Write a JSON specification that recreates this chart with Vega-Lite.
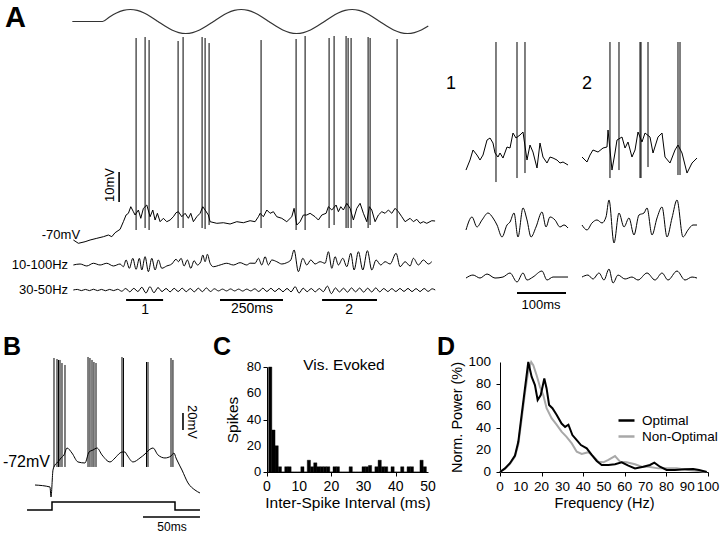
{
"$schema": "https://vega.github.io/schema/vega-lite/v6.json",
"padding": 0,
"background": "white",
"spacing": 0,
"config": {
 "font": "Liberation Sans",
 "view": {"stroke": null},
 "axis": {"grid": false, "domainColor": "black", "tickColor": "black", "labelColor": "black", "titleColor": "black", "titleFontWeight": "normal", "labelOverlap": false, "labelFlush": false},
 "text": {"color": "black"}
},
"datasets": {
 "stimA": [{"t":-130,"v":0},{"t":-10,"v":0},{"t":17.5,"v":0.383},{"t":45,"v":0.707},{"t":72.5,"v":0.924},{"t":100,"v":1},{"t":127.5,"v":0.924},{"t":155,"v":0.707},{"t":182.5,"v":0.383},{"t":210,"v":0},{"t":237.5,"v":-0.383},{"t":265,"v":-0.707},{"t":292.5,"v":-0.924},{"t":320,"v":-1},{"t":347.5,"v":-0.924},{"t":375,"v":-0.707},{"t":402.5,"v":-0.383},{"t":430,"v":0},{"t":457.5,"v":0.383},{"t":485,"v":0.707},{"t":512.5,"v":0.924},{"t":540,"v":1},{"t":567.5,"v":0.924},{"t":595,"v":0.707},{"t":622.5,"v":0.383},{"t":650,"v":0},{"t":677.5,"v":-0.383},{"t":705,"v":-0.707},{"t":732.5,"v":-0.924},{"t":760,"v":-1},{"t":787.5,"v":-0.924},{"t":815,"v":-0.707},{"t":842.5,"v":-0.383},{"t":870,"v":0},{"t":897.5,"v":0.383},{"t":925,"v":0.707},{"t":952.5,"v":0.924},{"t":980,"v":1},{"t":1007.5,"v":0.924},{"t":1035,"v":0.707},{"t":1062.5,"v":0.383},{"t":1090,"v":0},{"t":1117.5,"v":-0.383},{"t":1145,"v":-0.707},{"t":1172.5,"v":-0.924},{"t":1200,"v":-1},{"t":1227.5,"v":-0.924},{"t":1255,"v":-0.707},{"t":1282.5,"v":-0.383}],
 "rawA": [{"t":-125.8,"mV":-69.33},{"t":-106,"mV":-70.43},{"t":-79.4,"mV":-69.9},{"t":-59.5,"mV":-69.33},{"t":-32.9,"mV":-68.77},{"t":-6.7,"mV":-68.23},{"t":13.1,"mV":-67.67},{"t":26.6,"mV":-68.23},{"t":39.7,"mV":-66.9},{"t":59.5,"mV":-65.77},{"t":72.6,"mV":-63.23},{"t":83.3,"mV":-61},{"t":92.5,"mV":-60.43},{"t":102,"mV":-58.23},{"t":112.3,"mV":-59.9},{"t":119,"mV":-61},{"t":132.1,"mV":-59.33},{"t":141.7,"mV":-62.1},{"t":152,"mV":-58.77},{"t":165.5,"mV":-57.67},{"t":178.6,"mV":-61.57},{"t":189.3,"mV":-59.33},{"t":198.4,"mV":-62.67},{"t":207.5,"mV":-60.43},{"t":218.3,"mV":-63.23},{"t":231.3,"mV":-62.1},{"t":244.8,"mV":-63.23},{"t":257.9,"mV":-62.67},{"t":271,"mV":-61.57},{"t":281.7,"mV":-60.23},{"t":290.9,"mV":-59.9},{"t":304.4,"mV":-61.57},{"t":317.5,"mV":-60.43},{"t":330.6,"mV":-62.1},{"t":340.1,"mV":-60.43},{"t":350.4,"mV":-63.23},{"t":363.9,"mV":-61.57},{"t":377,"mV":-60.43},{"t":387.7,"mV":-58.23},{"t":396.8,"mV":-59.33},{"t":409.9,"mV":-61},{"t":416.7,"mV":-63.23},{"t":443.3,"mV":-63.77},{"t":469.4,"mV":-63.57},{"t":496,"mV":-64},{"t":522.6,"mV":-63.23},{"t":548.8,"mV":-63.57},{"t":575.4,"mV":-62.9},{"t":595.2,"mV":-63.23},{"t":608.3,"mV":-61.57},{"t":615.1,"mV":-60.43},{"t":628.2,"mV":-61.57},{"t":641.7,"mV":-59.33},{"t":654.8,"mV":-60.43},{"t":667.9,"mV":-59.9},{"t":681.3,"mV":-61.57},{"t":701.2,"mV":-62.1},{"t":721,"mV":-63.23},{"t":740.9,"mV":-61.57},{"t":750,"mV":-58.77},{"t":760.7,"mV":-64.33},{"t":773.8,"mV":-63.23},{"t":786.9,"mV":-61},{"t":800.4,"mV":-61},{"t":813.5,"mV":-60.43},{"t":833.3,"mV":-61.57},{"t":846.4,"mV":-62.67},{"t":859.9,"mV":-61},{"t":877,"mV":-60.43},{"t":886.1,"mV":-58.23},{"t":899.6,"mV":-59.33},{"t":916.7,"mV":-57.67},{"t":925.8,"mV":-59.9},{"t":935.3,"mV":-58.23},{"t":945.6,"mV":-59.33},{"t":959.1,"mV":-57.1},{"t":972.2,"mV":-58.77},{"t":985.3,"mV":-62.67},{"t":998.8,"mV":-58.77},{"t":1011.9,"mV":-57.1},{"t":1025,"mV":-60.43},{"t":1038.5,"mV":-63.23},{"t":1048.8,"mV":-58.23},{"t":1058.3,"mV":-59.33},{"t":1071.4,"mV":-63.23},{"t":1084.5,"mV":-61},{"t":1098,"mV":-59.9},{"t":1111.1,"mV":-60.43},{"t":1124.2,"mV":-59.33},{"t":1137.7,"mV":-60.43},{"t":1150.8,"mV":-58.77},{"t":1163.9,"mV":-59.9},{"t":1177.4,"mV":-61.57},{"t":1190.5,"mV":-63.23},{"t":1210.3,"mV":-62.1},{"t":1223.4,"mV":-63.23},{"t":1236.9,"mV":-62.43},{"t":1250,"mV":-63.77},{"t":1263.1,"mV":-63.23},{"t":1276.6,"mV":-63.77},{"t":1296.4,"mV":-62.9},{"t":1309.5,"mV":-63}],
 "spikesA": [{"t":123,"top":-2,"bot":-66},{"t":158.7,"top":-1.67,"bot":-65.33},{"t":174.6,"top":-2.67,"bot":-66},{"t":289.7,"top":-3,"bot":-65.33},{"t":309.5,"top":-1.67,"bot":-65.33},{"t":384.9,"top":-1.67,"bot":-65.33},{"t":396.8,"top":-2,"bot":-65.67},{"t":412.7,"top":-3.67,"bot":-64.33},{"t":619,"top":-2.67,"bot":-65.33},{"t":757.9,"top":-2.33,"bot":-66},{"t":793.7,"top":-1.33,"bot":-66},{"t":888.9,"top":-2,"bot":-65.33},{"t":908.7,"top":-1.33,"bot":-64.33},{"t":956.3,"top":-1.33,"bot":-65.33},{"t":964.3,"top":-2,"bot":-65.33},{"t":976.2,"top":-2,"bot":-65.33},{"t":1043.7,"top":-1.67,"bot":-65.33},{"t":1051.6,"top":-2,"bot":-64.33},{"t":1158.7,"top":-2.33,"bot":-65.33}],
 "f1A": [{"t":-125.8,"v":0},{"t":-99.2,"v":0.33},{"t":-72.6,"v":-0.33},{"t":-46.4,"v":0.57},{"t":-19.8,"v":0},{"t":6.7,"v":0.57},{"t":32.9,"v":-0.33},{"t":59.5,"v":0.33},{"t":72.6,"v":-0.57},{"t":83.3,"v":1.67},{"t":96.4,"v":-1.1},{"t":109.9,"v":2.23},{"t":123,"v":-1.43},{"t":136.1,"v":2.23},{"t":145.6,"v":-1.67},{"t":158.7,"v":2.77},{"t":171.8,"v":-2.23},{"t":185.3,"v":2.23},{"t":198.4,"v":-1.67},{"t":211.5,"v":1.67},{"t":225,"v":-1.1},{"t":244.8,"v":-0.33},{"t":264.7,"v":0.33},{"t":281.7,"v":1.9},{"t":290.9,"v":1.1},{"t":301.6,"v":2.23},{"t":313.5,"v":-0.33},{"t":326.6,"v":1.67},{"t":340.1,"v":-1.1},{"t":353.2,"v":1.43},{"t":366.3,"v":0},{"t":379.8,"v":1.1},{"t":387.7,"v":3.33},{"t":396.8,"v":1.1},{"t":406,"v":3.57},{"t":416.7,"v":0.57},{"t":429.8,"v":-0.57},{"t":456.3,"v":0},{"t":482.9,"v":0.57},{"t":509.1,"v":0},{"t":535.7,"v":0.77},{"t":562.3,"v":0},{"t":575.4,"v":0.6},{"t":595.2,"v":0.57},{"t":608.3,"v":2.23},{"t":621.8,"v":0},{"t":634.9,"v":2.77},{"t":648,"v":0},{"t":661.5,"v":1.67},{"t":681.3,"v":1.1},{"t":701.2,"v":0.33},{"t":721,"v":0.77},{"t":736.9,"v":1.67},{"t":750,"v":5},{"t":767,"v":-2.23},{"t":784.5,"v":2.23},{"t":800.4,"v":0},{"t":816.3,"v":1.67},{"t":833.3,"v":0.33},{"t":853.2,"v":1.1},{"t":873,"v":0.57},{"t":886.1,"v":4.43},{"t":899.6,"v":-1.1},{"t":912.7,"v":2.77},{"t":925.8,"v":0},{"t":943.3,"v":2.23},{"t":959.1,"v":-0.57},{"t":975,"v":3.9},{"t":988.1,"v":-1.67},{"t":1005.2,"v":4.43},{"t":1022.6,"v":-1.67},{"t":1040.9,"v":4.77},{"t":1058.3,"v":-1.67},{"t":1075.4,"v":1.67},{"t":1094,"v":0},{"t":1111.1,"v":1.1},{"t":1131,"v":0.33},{"t":1154.8,"v":3.9},{"t":1170.6,"v":-0.57},{"t":1190.5,"v":1.1},{"t":1210.3,"v":-0.33},{"t":1223.4,"v":2.23},{"t":1243.3,"v":0},{"t":1263.1,"v":1.67},{"t":1282.9,"v":0.33},{"t":1296.4,"v":1.1}],
 "f2A": [{"t":-126,"v":0},{"t":-110,"v":0.2},{"t":-94,"v":-0.2},{"t":-78,"v":0.2},{"t":-62,"v":-0.2},{"t":-46,"v":0.25},{"t":-30,"v":-0.2},{"t":-14,"v":0.2},{"t":2,"v":-0.25},{"t":18,"v":0.2},{"t":34,"v":-0.2},{"t":50,"v":0.25},{"t":66,"v":-0.4},{"t":82,"v":0.5},{"t":98,"v":-0.6},{"t":114,"v":0.55},{"t":130,"v":-0.5},{"t":146,"v":0.9},{"t":162,"v":-1},{"t":178,"v":1.1},{"t":194,"v":-0.9},{"t":210,"v":0.8},{"t":226,"v":-0.5},{"t":242,"v":0.5},{"t":258,"v":-0.6},{"t":274,"v":0.55},{"t":290,"v":-0.5},{"t":306,"v":0.6},{"t":322,"v":-0.55},{"t":338,"v":0.5},{"t":354,"v":-0.6},{"t":370,"v":0.6},{"t":386,"v":-0.55},{"t":402,"v":0.7},{"t":418,"v":-0.5},{"t":434,"v":0.4},{"t":450,"v":-0.3},{"t":466,"v":0.3},{"t":482,"v":-0.3},{"t":498,"v":0.35},{"t":514,"v":-0.3},{"t":530,"v":0.3},{"t":546,"v":-0.35},{"t":562,"v":0.3},{"t":578,"v":-0.3},{"t":594,"v":0.4},{"t":610,"v":-0.5},{"t":626,"v":0.6},{"t":642,"v":-0.5},{"t":658,"v":0.55},{"t":674,"v":-0.5},{"t":690,"v":0.5},{"t":706,"v":-0.55},{"t":722,"v":0.5},{"t":738,"v":-0.6},{"t":754,"v":1.1},{"t":770,"v":-1},{"t":786,"v":0.6},{"t":802,"v":-0.55},{"t":818,"v":0.5},{"t":834,"v":-0.6},{"t":850,"v":0.5},{"t":866,"v":-0.55},{"t":882,"v":1.3},{"t":898,"v":-1.2},{"t":914,"v":0.7},{"t":930,"v":-0.65},{"t":946,"v":0.6},{"t":962,"v":-0.7},{"t":978,"v":0.7},{"t":994,"v":-0.6},{"t":1010,"v":0.65},{"t":1026,"v":-0.7},{"t":1042,"v":0.6},{"t":1058,"v":-0.65},{"t":1074,"v":0.7},{"t":1090,"v":-0.6},{"t":1106,"v":0.5},{"t":1122,"v":-0.5},{"t":1138,"v":0.45},{"t":1154,"v":-0.5},{"t":1170,"v":0.5},{"t":1186,"v":-0.45},{"t":1202,"v":0.5},{"t":1218,"v":-0.5},{"t":1234,"v":0.45},{"t":1250,"v":-0.5},{"t":1266,"v":0.5},{"t":1282,"v":-0.45},{"t":1298,"v":0.4},{"t":1310,"v":0}],
 "rawI1": [{"t":0,"mV":-63.67},{"t":8.2,"mV":-62},{"t":14.3,"mV":-60.33},{"t":22.4,"mV":-61.17},{"t":28.6,"mV":-62},{"t":34.7,"mV":-61.17},{"t":42.9,"mV":-58.67},{"t":49,"mV":-58.33},{"t":55.1,"mV":-59.17},{"t":59.2,"mV":-60.83},{"t":65.3,"mV":-61.5},{"t":69.4,"mV":-60.83},{"t":75.5,"mV":-61.67},{"t":83.7,"mV":-59.83},{"t":89.8,"mV":-60},{"t":95.9,"mV":-57.5},{"t":102,"mV":-58.33},{"t":110.2,"mV":-57.83},{"t":116.3,"mV":-57.33},{"t":124.5,"mV":-62},{"t":130.6,"mV":-59.5},{"t":136.7,"mV":-60.67},{"t":144.9,"mV":-63.33},{"t":151,"mV":-59.17},{"t":157.1,"mV":-61.5},{"t":165.3,"mV":-62.5},{"t":171.4,"mV":-61.5},{"t":177.6,"mV":-61.67},{"t":185.7,"mV":-62},{"t":191.8,"mV":-62.5},{"t":198,"mV":-62.33},{"t":208.2,"mV":-62.83}],
 "spI1": [{"t":61.2,"top":-42.33,"bot":-65.67},{"t":104.1,"top":-42.33,"bot":-65},{"t":120.4,"top":-42.33,"bot":-64.17}],
 "f1I1": [{"t":0,"v":-0.5},{"t":12.2,"v":1.67},{"t":22.4,"v":0},{"t":32.7,"v":1.17},{"t":44.9,"v":2.33},{"t":55.1,"v":1.5},{"t":63.3,"v":0.33},{"t":73.5,"v":-1.67},{"t":83.7,"v":0.33},{"t":89.8,"v":0.83},{"t":98,"v":2.33},{"t":106.1,"v":-1.67},{"t":116.3,"v":3.17},{"t":124.5,"v":1.17},{"t":132.7,"v":-1.67},{"t":142.9,"v":0},{"t":155.1,"v":2.5},{"t":163.3,"v":0},{"t":171.4,"v":1.67},{"t":181.6,"v":1.17},{"t":191.8,"v":0},{"t":200,"v":0.33},{"t":208.2,"v":-0.17}],
 "f2I1": [{"t":0,"v":-0.17},{"t":14.3,"v":0.33},{"t":28.6,"v":-0.17},{"t":42.9,"v":0.5},{"t":59.2,"v":-0.17},{"t":75.5,"v":0},{"t":89.8,"v":0.67},{"t":104.1,"v":-0.83},{"t":116.3,"v":0.67},{"t":124.5,"v":-0.5},{"t":136.7,"v":0},{"t":155.1,"v":1},{"t":165.3,"v":-0.5},{"t":177.6,"v":0},{"t":195.9,"v":0},{"t":208.2,"v":0}],
 "rawI2": [{"t":0,"mV":-61.5},{"t":10.2,"mV":-62.33},{"t":16.3,"mV":-61.17},{"t":22.4,"mV":-60.33},{"t":32.7,"mV":-60.67},{"t":42.9,"mV":-60},{"t":51,"mV":-59.83},{"t":53.1,"mV":-57},{"t":61.2,"mV":-63.67},{"t":67.3,"mV":-60.83},{"t":71.4,"mV":-58.67},{"t":81.6,"mV":-58.17},{"t":87.8,"mV":-60},{"t":93.9,"mV":-59},{"t":102,"mV":-61.5},{"t":108.2,"mV":-60.33},{"t":114.3,"mV":-57.33},{"t":122.4,"mV":-59},{"t":128.6,"mV":-57.5},{"t":138.8,"mV":-58.17},{"t":144.9,"mV":-60.83},{"t":155.1,"mV":-58.17},{"t":163.3,"mV":-57.5},{"t":169.4,"mV":-61.5},{"t":179.6,"mV":-62.5},{"t":189.8,"mV":-60.33},{"t":195.9,"mV":-59.5},{"t":204.1,"mV":-60.83},{"t":214.3,"mV":-64.17},{"t":224.5,"mV":-62.5},{"t":234.7,"mV":-61.67}],
 "spI2": [{"t":57.1,"top":-42.33,"bot":-65},{"t":75.5,"top":-42.33,"bot":-63.67},{"t":118.4,"top":-42.33,"bot":-65},{"t":120.4,"top":-42.33,"bot":-65},{"t":134.7,"top":-42.33,"bot":-63.17},{"t":195.9,"top":-42.33,"bot":-64.5},{"t":200,"top":-42.33,"bot":-64.5}],
 "f1I2": [{"t":0,"v":0.33},{"t":10.2,"v":-0.5},{"t":20.4,"v":0.67},{"t":30.6,"v":1.17},{"t":40.8,"v":0.67},{"t":49,"v":1.67},{"t":55.1,"v":4.5},{"t":65.3,"v":-2.67},{"t":75.5,"v":2.33},{"t":85.7,"v":0},{"t":95.9,"v":1.5},{"t":106.1,"v":-1.33},{"t":116.3,"v":2},{"t":126.5,"v":2.33},{"t":132.7,"v":3.17},{"t":142.9,"v":-1.33},{"t":153.1,"v":1.5},{"t":163.3,"v":3.33},{"t":173.5,"v":-1.67},{"t":183.7,"v":1.5},{"t":193.9,"v":4.5},{"t":206.1,"v":-1.67},{"t":216.3,"v":-0.5},{"t":226.5,"v":0.33},{"t":234.7,"v":0.33}],
 "f2I2": [{"t":0,"v":0},{"t":12.2,"v":0.33},{"t":22.4,"v":-0.33},{"t":34.7,"v":0.67},{"t":44.9,"v":-0.5},{"t":55.1,"v":1.33},{"t":63.3,"v":-1},{"t":73.5,"v":0.33},{"t":87.8,"v":-0.33},{"t":102,"v":0},{"t":114.3,"v":-0.5},{"t":132.7,"v":0.67},{"t":149,"v":-0.5},{"t":163.3,"v":0.67},{"t":175.5,"v":-0.5},{"t":193.9,"v":1},{"t":210.2,"v":-0.5},{"t":224.5,"v":0},{"t":234.7,"v":-0.17}],
 "traceB": [{"t":-14.9,"mV":-72},{"t":-1.75,"mV":-74.35},{"t":-0.88,"mV":-86.1},{"t":0.88,"mV":-54.35},{"t":2.63,"mV":-48.47},{"t":5.26,"mV":-44.94},{"t":7.9,"mV":-40.2},{"t":10.5,"mV":-36.7},{"t":13.2,"mV":-28.5},{"t":17.5,"mV":-34.4},{"t":22.8,"mV":-44.9},{"t":28.9,"mV":-46.1},{"t":32.5,"mV":-33.2},{"t":36,"mV":-30.8},{"t":39.5,"mV":-28.5},{"t":43.9,"mV":-36.7},{"t":50.9,"mV":-44.9},{"t":55.3,"mV":-40.2},{"t":59.6,"mV":-34.4},{"t":61.4,"mV":-33.2},{"t":64,"mV":-33.2},{"t":65.8,"mV":-36.7},{"t":71.1,"mV":-44.9},{"t":77.2,"mV":-40.2},{"t":81.6,"mV":-35.5},{"t":85.1,"mV":-30.8},{"t":88.6,"mV":-28.5},{"t":93,"mV":-36.7},{"t":99.1,"mV":-40.2},{"t":104.4,"mV":-37.9},{"t":107,"mV":-34.4},{"t":108.8,"mV":-40.2},{"t":109.6,"mV":-42.6},{"t":114,"mV":-54.35},{"t":119.3,"mV":-69.6},{"t":125.4,"mV":-77.9},{"t":129.8,"mV":-81.4}],
 "spikesB": [{"t":1.75,"top":77.4,"bot":-50.8},{"t":4.39,"top":76.2,"bot":-50.8},{"t":5.7,"top":75.1,"bot":-50.8},{"t":7.02,"top":75.1,"bot":-50.8},{"t":8.77,"top":71.5,"bot":-50.8},{"t":11.4,"top":69.2,"bot":-50.8},{"t":31.6,"top":78.6,"bot":-50.8},{"t":33.3,"top":77.4,"bot":-50.8},{"t":35.1,"top":75.1,"bot":-50.8},{"t":36.8,"top":72.7,"bot":-50.8},{"t":38.6,"top":71.5,"bot":-50.8},{"t":61.4,"top":78.6,"bot":-50.8},{"t":62.7,"top":77.4,"bot":-50.8},{"t":82.9,"top":72.7,"bot":-50.8},{"t":84.2,"top":72.7,"bot":-50.8},{"t":104.4,"top":77.4,"bot":-50.8},{"t":106.1,"top":75.1,"bot":-50.8}],
 "stepB": [{"t":-21.9,"I":0},{"t":0,"I":1},{"t":107.9,"I":0},{"t":129.8,"I":0}],
 "histC": [{"lo":0.5,"hi":1.5,"n":80},{"lo":1.5,"hi":2.5,"n":32},{"lo":2.5,"hi":3.5,"n":20},{"lo":3.5,"hi":4.5,"n":4},{"lo":4.5,"hi":5.5,"n":0},{"lo":5.5,"hi":6.5,"n":4},{"lo":6.5,"hi":7.5,"n":4},{"lo":7.5,"hi":8.5,"n":0},{"lo":8.5,"hi":9.5,"n":0},{"lo":9.5,"hi":10.5,"n":0},{"lo":10.5,"hi":11.5,"n":4},{"lo":11.5,"hi":12.5,"n":0},{"lo":12.5,"hi":13.5,"n":9},{"lo":13.5,"hi":14.5,"n":4},{"lo":14.5,"hi":15.5,"n":7},{"lo":15.5,"hi":16.5,"n":4},{"lo":16.5,"hi":17.5,"n":4},{"lo":17.5,"hi":18.5,"n":4},{"lo":18.5,"hi":19.5,"n":4},{"lo":19.5,"hi":20.5,"n":0},{"lo":20.5,"hi":21.5,"n":4},{"lo":21.5,"hi":22.5,"n":4},{"lo":22.5,"hi":23.5,"n":0},{"lo":23.5,"hi":24.5,"n":0},{"lo":24.5,"hi":25.5,"n":0},{"lo":25.5,"hi":26.5,"n":4},{"lo":26.5,"hi":27.5,"n":0},{"lo":27.5,"hi":28.5,"n":0},{"lo":28.5,"hi":29.5,"n":0},{"lo":29.5,"hi":30.5,"n":4},{"lo":30.5,"hi":31.5,"n":4},{"lo":31.5,"hi":32.5,"n":5},{"lo":32.5,"hi":33.5,"n":0},{"lo":33.5,"hi":34.5,"n":4},{"lo":34.5,"hi":35.5,"n":9},{"lo":35.5,"hi":36.5,"n":4},{"lo":36.5,"hi":37.5,"n":4},{"lo":37.5,"hi":38.5,"n":0},{"lo":38.5,"hi":39.5,"n":4},{"lo":39.5,"hi":40.5,"n":0},{"lo":40.5,"hi":41.5,"n":0},{"lo":41.5,"hi":42.5,"n":4},{"lo":42.5,"hi":43.5,"n":0},{"lo":43.5,"hi":44.5,"n":4},{"lo":44.5,"hi":45.5,"n":4},{"lo":45.5,"hi":46.5,"n":0},{"lo":46.5,"hi":47.5,"n":0},{"lo":47.5,"hi":48.5,"n":9},{"lo":48.5,"hi":49.5,"n":4}],
 "spectD": [{"f":0,"p":0,"c":"Optimal"},{"f":2.4,"p":3.3,"c":"Optimal"},{"f":4.8,"p":8,"c":"Optimal"},{"f":7.2,"p":15,"c":"Optimal"},{"f":8.8,"p":27.5,"c":"Optimal"},{"f":10.4,"p":52,"c":"Optimal"},{"f":12,"p":76,"c":"Optimal"},{"f":13.6,"p":100,"c":"Optimal"},{"f":15.2,"p":86.7,"c":"Optimal"},{"f":16.8,"p":79,"c":"Optimal"},{"f":18.1,"p":65.5,"c":"Optimal"},{"f":19.6,"p":70,"c":"Optimal"},{"f":21.3,"p":85,"c":"Optimal"},{"f":22.4,"p":76,"c":"Optimal"},{"f":23.6,"p":61,"c":"Optimal"},{"f":25.2,"p":58,"c":"Optimal"},{"f":27.2,"p":52,"c":"Optimal"},{"f":29.6,"p":44,"c":"Optimal"},{"f":31.3,"p":41,"c":"Optimal"},{"f":32.9,"p":43,"c":"Optimal"},{"f":34.8,"p":33.6,"c":"Optimal"},{"f":36.9,"p":29,"c":"Optimal"},{"f":38.9,"p":24.5,"c":"Optimal"},{"f":41.7,"p":21.5,"c":"Optimal"},{"f":44.1,"p":15.5,"c":"Optimal"},{"f":46.5,"p":10,"c":"Optimal"},{"f":48.9,"p":6.4,"c":"Optimal"},{"f":52.1,"p":6.4,"c":"Optimal"},{"f":55.3,"p":7,"c":"Optimal"},{"f":58.5,"p":8.8,"c":"Optimal"},{"f":61.7,"p":5.8,"c":"Optimal"},{"f":64.9,"p":3.3,"c":"Optimal"},{"f":68.9,"p":4.8,"c":"Optimal"},{"f":72.1,"p":6.4,"c":"Optimal"},{"f":74.2,"p":8.5,"c":"Optimal"},{"f":76.9,"p":4.8,"c":"Optimal"},{"f":80.1,"p":1.8,"c":"Optimal"},{"f":84.1,"p":1.8,"c":"Optimal"},{"f":88.9,"p":2.4,"c":"Optimal"},{"f":92.9,"p":2.7,"c":"Optimal"},{"f":95.7,"p":1.8,"c":"Optimal"},{"f":99.4,"p":0,"c":"Optimal"},
  {"f":0,"p":0,"c":"Non-Optimal"},{"f":2.4,"p":3,"c":"Non-Optimal"},{"f":4.8,"p":7.5,"c":"Non-Optimal"},{"f":7.2,"p":14,"c":"Non-Optimal"},{"f":8.8,"p":25,"c":"Non-Optimal"},{"f":10.4,"p":48,"c":"Non-Optimal"},{"f":12,"p":72,"c":"Non-Optimal"},{"f":13.6,"p":92,"c":"Non-Optimal"},{"f":15,"p":100,"c":"Non-Optimal"},{"f":16,"p":97,"c":"Non-Optimal"},{"f":17.6,"p":88,"c":"Non-Optimal"},{"f":19.2,"p":77.5,"c":"Non-Optimal"},{"f":20.8,"p":70,"c":"Non-Optimal"},{"f":22.4,"p":58,"c":"Non-Optimal"},{"f":24.8,"p":49,"c":"Non-Optimal"},{"f":27.2,"p":43,"c":"Non-Optimal"},{"f":29.6,"p":36.7,"c":"Non-Optimal"},{"f":32,"p":32,"c":"Non-Optimal"},{"f":34.5,"p":26,"c":"Non-Optimal"},{"f":36.9,"p":18.5,"c":"Non-Optimal"},{"f":39.3,"p":16.4,"c":"Non-Optimal"},{"f":42.5,"p":18,"c":"Non-Optimal"},{"f":44.9,"p":14,"c":"Non-Optimal"},{"f":47.3,"p":9.4,"c":"Non-Optimal"},{"f":49.7,"p":8.8,"c":"Non-Optimal"},{"f":52.1,"p":11,"c":"Non-Optimal"},{"f":55.3,"p":14.5,"c":"Non-Optimal"},{"f":57.7,"p":9.4,"c":"Non-Optimal"},{"f":60.9,"p":8.8,"c":"Non-Optimal"},{"f":64.9,"p":7,"c":"Non-Optimal"},{"f":68.1,"p":4.8,"c":"Non-Optimal"},{"f":71.3,"p":4.8,"c":"Non-Optimal"},{"f":76.1,"p":3.3,"c":"Non-Optimal"},{"f":80.9,"p":3.3,"c":"Non-Optimal"},{"f":84.9,"p":3.3,"c":"Non-Optimal"},{"f":90.5,"p":1.8,"c":"Non-Optimal"},{"f":95.3,"p":0.9,"c":"Non-Optimal"},{"f":99.4,"p":0,"c":"Non-Optimal"}],
 "ticksCx": [{"v":0},{"v":10},{"v":20},{"v":30},{"v":40},{"v":50}],
 "ticksCy": [{"v":0},{"v":20},{"v":40},{"v":60},{"v":80}],
 "ticksDx": [{"v":0},{"v":10},{"v":20},{"v":30},{"v":40},{"v":50},{"v":60},{"v":70},{"v":80},{"v":90},{"v":100}],
 "ticksDy": [{"v":0},{"v":20},{"v":40},{"v":60},{"v":80},{"v":100}]
},
"vconcat": [
 {"hconcat": [
  {"width": 440, "height": 330,
   "resolve": {"scale": {"y": "independent"}, "axis": {"y": "independent"}},
   "layer": [
    {"data": {"name": "stimA"}, "mark": {"type": "line", "interpolate": "monotone", "strokeWidth": 1.2, "color": "#333"},
     "encoding": {"x": {"field": "t", "type": "quantitative", "scale": {"domain": [-417, 1329], "nice": false, "zero": false}, "axis": null},
                  "y": {"field": "v", "type": "quantitative", "scale": {"domain": [-25.708, 1.792], "nice": false, "zero": false}, "axis": null}}},
    {"data": {"name": "rawA"}, "mark": {"type": "line", "strokeWidth": 1, "color": "black"},
     "encoding": {"x": {"field": "t", "type": "quantitative", "scale": {"domain": [-417, 1329], "nice": false, "zero": false}, "axis": null},
                  "y": {"field": "mV", "type": "quantitative", "scale": {"domain": [-99.33, 10.67], "nice": false, "zero": false}, "axis": null}}},
    {"data": {"name": "spikesA"}, "mark": {"type": "rule", "strokeWidth": 1, "color": "black"},
     "encoding": {"x": {"field": "t", "type": "quantitative", "scale": {"domain": [-417, 1329], "nice": false, "zero": false}, "axis": null},
                  "y": {"field": "top", "type": "quantitative", "scale": {"domain": [-99.33, 10.67], "nice": false, "zero": false}, "axis": null},
                  "y2": {"field": "bot"}}},
    {"data": {"name": "f1A"}, "mark": {"type": "line", "interpolate": "monotone", "strokeWidth": 1, "color": "black"},
     "encoding": {"x": {"field": "t", "type": "quantitative", "scale": {"domain": [-417, 1329], "nice": false, "zero": false}, "axis": null},
                  "y": {"field": "v", "type": "quantitative", "scale": {"domain": [-21.67, 88.33], "nice": false, "zero": false}, "axis": null}}},
    {"data": {"name": "f2A"}, "mark": {"type": "line", "interpolate": "monotone", "strokeWidth": 1, "color": "black"},
     "encoding": {"x": {"field": "t", "type": "quantitative", "scale": {"domain": [-417, 1329], "nice": false, "zero": false}, "axis": null},
                  "y": {"field": "v", "type": "quantitative", "scale": {"domain": [-13.33, 96.67], "nice": false, "zero": false}, "axis": null}}},
    {"data": {"values": [{}]}, "mark": {"type": "rule", "strokeWidth": 1.6, "color": "black"},
     "encoding": {"x": {"datum": 55.6, "type": "quantitative", "scale": {"domain": [-417, 1329], "nice": false, "zero": false}, "axis": null},
                  "y": {"datum": -56.67, "type": "quantitative", "scale": {"domain": [-99.33, 10.67], "nice": false, "zero": false}, "axis": null}, "y2": {"datum": -46.67}}},
    {"data": {"values": [{}]}, "mark": {"type": "rule", "strokeWidth": 2, "color": "black"},
     "encoding": {"x": {"datum": 83.3, "type": "quantitative", "scale": {"domain": [-417, 1329], "nice": false, "zero": false}, "axis": null}, "x2": {"datum": 230.2},
                  "y": {"datum": -89.33, "type": "quantitative", "scale": {"domain": [-99.33, 10.67], "nice": false, "zero": false}, "axis": null}}},
    {"data": {"values": [{}]}, "mark": {"type": "rule", "strokeWidth": 2, "color": "black"},
     "encoding": {"x": {"datum": 456, "type": "quantitative", "scale": {"domain": [-417, 1329], "nice": false, "zero": false}, "axis": null}, "x2": {"datum": 706},
                  "y": {"datum": -89.33, "type": "quantitative", "scale": {"domain": [-99.33, 10.67], "nice": false, "zero": false}, "axis": null}}},
    {"data": {"values": [{}]}, "mark": {"type": "rule", "strokeWidth": 2, "color": "black"},
     "encoding": {"x": {"datum": 861, "type": "quantitative", "scale": {"domain": [-417, 1329], "nice": false, "zero": false}, "axis": null}, "x2": {"datum": 1079},
                  "y": {"datum": -89.33, "type": "quantitative", "scale": {"domain": [-99.33, 10.67], "nice": false, "zero": false}, "axis": null}}},
    {"data": {"values": [{}]}, "mark": {"type": "text", "text": "A", "fontSize": 29, "fontWeight": "bold", "align": "left", "baseline": "alphabetic"},
     "encoding": {"x": {"datum": -397, "type": "quantitative", "scale": {"domain": [-417, 1329], "nice": false, "zero": false}, "axis": null},
                  "y": {"datum": 1.67, "type": "quantitative", "scale": {"domain": [-99.33, 10.67], "nice": false, "zero": false}, "axis": null}}},
    {"data": {"values": [{}]}, "mark": {"type": "text", "text": "-70mV", "fontSize": 13, "align": "right", "baseline": "middle"},
     "encoding": {"x": {"datum": -99.2, "type": "quantitative", "scale": {"domain": [-417, 1329], "nice": false, "zero": false}, "axis": null},
                  "y": {"datum": -67.67, "type": "quantitative", "scale": {"domain": [-99.33, 10.67], "nice": false, "zero": false}, "axis": null}}},
    {"data": {"values": [{}]}, "mark": {"type": "text", "text": "10-100Hz", "fontSize": 13, "align": "right", "baseline": "middle"},
     "encoding": {"x": {"datum": -146.8, "type": "quantitative", "scale": {"domain": [-417, 1329], "nice": false, "zero": false}, "axis": null},
                  "y": {"datum": -77.67, "type": "quantitative", "scale": {"domain": [-99.33, 10.67], "nice": false, "zero": false}, "axis": null}}},
    {"data": {"values": [{}]}, "mark": {"type": "text", "text": "30-50Hz", "fontSize": 13, "align": "right", "baseline": "middle"},
     "encoding": {"x": {"datum": -146.8, "type": "quantitative", "scale": {"domain": [-417, 1329], "nice": false, "zero": false}, "axis": null},
                  "y": {"datum": -86, "type": "quantitative", "scale": {"domain": [-99.33, 10.67], "nice": false, "zero": false}, "axis": null}}},
    {"data": {"values": [{}]}, "mark": {"type": "text", "text": "10mV", "fontSize": 13, "angle": 270, "align": "center", "baseline": "middle"},
     "encoding": {"x": {"datum": 19.8, "type": "quantitative", "scale": {"domain": [-417, 1329], "nice": false, "zero": false}, "axis": null},
                  "y": {"datum": -51, "type": "quantitative", "scale": {"domain": [-99.33, 10.67], "nice": false, "zero": false}, "axis": null}}},
    {"data": {"values": [{}]}, "mark": {"type": "text", "text": "1", "fontSize": 14, "align": "center", "baseline": "middle"},
     "encoding": {"x": {"datum": 158.7, "type": "quantitative", "scale": {"domain": [-417, 1329], "nice": false, "zero": false}, "axis": null},
                  "y": {"datum": -92.67, "type": "quantitative", "scale": {"domain": [-99.33, 10.67], "nice": false, "zero": false}, "axis": null}}},
    {"data": {"values": [{}]}, "mark": {"type": "text", "text": "250ms", "fontSize": 14, "align": "center", "baseline": "middle"},
     "encoding": {"x": {"datum": 583, "type": "quantitative", "scale": {"domain": [-417, 1329], "nice": false, "zero": false}, "axis": null},
                  "y": {"datum": -92.33, "type": "quantitative", "scale": {"domain": [-99.33, 10.67], "nice": false, "zero": false}, "axis": null}}},
    {"data": {"values": [{}]}, "mark": {"type": "text", "text": "2", "fontSize": 14, "align": "center", "baseline": "middle"},
     "encoding": {"x": {"datum": 968, "type": "quantitative", "scale": {"domain": [-417, 1329], "nice": false, "zero": false}, "axis": null},
                  "y": {"datum": -92.67, "type": "quantitative", "scale": {"domain": [-99.33, 10.67], "nice": false, "zero": false}, "axis": null}}}
   ]},
  {"width": 135, "height": 330,
   "resolve": {"scale": {"y": "independent"}, "axis": {"y": "independent"}},
   "layer": [
    {"data": {"name": "rawI1"}, "mark": {"type": "line", "strokeWidth": 1, "color": "black"},
     "encoding": {"x": {"field": "t", "type": "quantitative", "scale": {"domain": [-53.06, 222.45], "nice": false, "zero": false}, "axis": null},
                  "y": {"field": "mV", "type": "quantitative", "scale": {"domain": [-90.33, -35.33], "nice": false, "zero": false}, "axis": null}}},
    {"data": {"name": "spI1"}, "mark": {"type": "rule", "strokeWidth": 1, "color": "black"},
     "encoding": {"x": {"field": "t", "type": "quantitative", "scale": {"domain": [-53.06, 222.45], "nice": false, "zero": false}, "axis": null},
                  "y": {"field": "top", "type": "quantitative", "scale": {"domain": [-90.33, -35.33], "nice": false, "zero": false}, "axis": null}, "y2": {"field": "bot"}}},
    {"data": {"name": "f1I1"}, "mark": {"type": "line", "interpolate": "monotone", "strokeWidth": 1, "color": "black"},
     "encoding": {"x": {"field": "t", "type": "quantitative", "scale": {"domain": [-53.06, 222.45], "nice": false, "zero": false}, "axis": null},
                  "y": {"field": "v", "type": "quantitative", "scale": {"domain": [-17.17, 37.83], "nice": false, "zero": false}, "axis": null}}},
    {"data": {"name": "f2I1"}, "mark": {"type": "line", "interpolate": "monotone", "strokeWidth": 1, "color": "black"},
     "encoding": {"x": {"field": "t", "type": "quantitative", "scale": {"domain": [-53.06, 222.45], "nice": false, "zero": false}, "axis": null},
                  "y": {"field": "v", "type": "quantitative", "scale": {"domain": [-8.83, 46.17], "nice": false, "zero": false}, "axis": null}}},
    {"data": {"values": [{}]}, "mark": {"type": "rule", "strokeWidth": 2, "color": "black"},
     "encoding": {"x": {"datum": 104.1, "type": "quantitative", "scale": {"domain": [-53.06, 222.45], "nice": false, "zero": false}, "axis": null}, "x2": {"datum": 204.1},
                  "y": {"datum": -84.17, "type": "quantitative", "scale": {"domain": [-90.33, -35.33], "nice": false, "zero": false}, "axis": null}}},
    {"data": {"values": [{}]}, "mark": {"type": "text", "text": "100ms", "fontSize": 13, "align": "center", "baseline": "middle"},
     "encoding": {"x": {"datum": 153.1, "type": "quantitative", "scale": {"domain": [-53.06, 222.45], "nice": false, "zero": false}, "axis": null},
                  "y": {"datum": -86.17, "type": "quantitative", "scale": {"domain": [-90.33, -35.33], "nice": false, "zero": false}, "axis": null}}},
    {"data": {"values": [{}]}, "mark": {"type": "text", "text": "1", "fontSize": 18, "align": "center", "baseline": "middle"},
     "encoding": {"x": {"datum": -30.6, "type": "quantitative", "scale": {"domain": [-53.06, 222.45], "nice": false, "zero": false}, "axis": null},
                  "y": {"datum": -49.33, "type": "quantitative", "scale": {"domain": [-90.33, -35.33], "nice": false, "zero": false}, "axis": null}}}
   ]},
  {"width": 145, "height": 330,
   "resolve": {"scale": {"y": "independent"}, "axis": {"y": "independent"}},
   "layer": [
    {"data": {"name": "rawI2"}, "mark": {"type": "line", "strokeWidth": 1, "color": "black"},
     "encoding": {"x": {"field": "t", "type": "quantitative", "scale": {"domain": [-14.29, 281.63], "nice": false, "zero": false}, "axis": null},
                  "y": {"field": "mV", "type": "quantitative", "scale": {"domain": [-90.33, -35.33], "nice": false, "zero": false}, "axis": null}}},
    {"data": {"name": "spI2"}, "mark": {"type": "rule", "strokeWidth": 1, "color": "black"},
     "encoding": {"x": {"field": "t", "type": "quantitative", "scale": {"domain": [-14.29, 281.63], "nice": false, "zero": false}, "axis": null},
                  "y": {"field": "top", "type": "quantitative", "scale": {"domain": [-90.33, -35.33], "nice": false, "zero": false}, "axis": null}, "y2": {"field": "bot"}}},
    {"data": {"name": "f1I2"}, "mark": {"type": "line", "interpolate": "monotone", "strokeWidth": 1, "color": "black"},
     "encoding": {"x": {"field": "t", "type": "quantitative", "scale": {"domain": [-14.29, 281.63], "nice": false, "zero": false}, "axis": null},
                  "y": {"field": "v", "type": "quantitative", "scale": {"domain": [-17.17, 37.83], "nice": false, "zero": false}, "axis": null}}},
    {"data": {"name": "f2I2"}, "mark": {"type": "line", "interpolate": "monotone", "strokeWidth": 1, "color": "black"},
     "encoding": {"x": {"field": "t", "type": "quantitative", "scale": {"domain": [-14.29, 281.63], "nice": false, "zero": false}, "axis": null},
                  "y": {"field": "v", "type": "quantitative", "scale": {"domain": [-8.83, 46.17], "nice": false, "zero": false}, "axis": null}}},
    {"data": {"values": [{}]}, "mark": {"type": "text", "text": "2", "fontSize": 18, "align": "center", "baseline": "middle"},
     "encoding": {"x": {"datum": 10.2, "type": "quantitative", "scale": {"domain": [-14.29, 281.63], "nice": false, "zero": false}, "axis": null},
                  "y": {"datum": -49.33, "type": "quantitative", "scale": {"domain": [-90.33, -35.33], "nice": false, "zero": false}, "axis": null}}}
   ]}
 ], "spacing": 0, "bounds": "flush"},
 {"hconcat": [
  {"width": 195, "height": 203,
   "resolve": {"scale": {"y": "independent"}, "axis": {"y": "independent"}},
   "layer": [
    {"data": {"name": "traceB"}, "mark": {"type": "line", "interpolate": "monotone", "strokeWidth": 1, "color": "black"},
     "encoding": {"x": {"field": "t", "type": "quantitative", "scale": {"domain": [-45.61, 125.44], "nice": false, "zero": false}, "axis": null},
                  "y": {"field": "mV", "type": "quantitative", "scale": {"domain": [-128.47, 110.35], "nice": false, "zero": false}, "axis": null}}},
    {"data": {"name": "spikesB"}, "mark": {"type": "rule", "strokeWidth": 1, "color": "black"},
     "encoding": {"x": {"field": "t", "type": "quantitative", "scale": {"domain": [-45.61, 125.44], "nice": false, "zero": false}, "axis": null},
                  "y": {"field": "top", "type": "quantitative", "scale": {"domain": [-128.47, 110.35], "nice": false, "zero": false}, "axis": null}, "y2": {"field": "bot"}}},
    {"data": {"name": "stepB"}, "mark": {"type": "line", "interpolate": "step-after", "strokeWidth": 1.5, "color": "black"},
     "encoding": {"x": {"field": "t", "type": "quantitative", "scale": {"domain": [-45.61, 125.44], "nice": false, "zero": false}, "axis": null},
                  "y": {"field": "I", "type": "quantitative", "scale": {"domain": [-2.875, 22.5], "nice": false, "zero": false}, "axis": null}}},
    {"data": {"values": [{}]}, "mark": {"type": "rule", "strokeWidth": 1.6, "color": "black"},
     "encoding": {"x": {"datum": 114.9, "type": "quantitative", "scale": {"domain": [-45.61, 125.44], "nice": false, "zero": false}, "axis": null},
                  "y": {"datum": -7.3, "type": "quantitative", "scale": {"domain": [-128.47, 110.35], "nice": false, "zero": false}, "axis": null}, "y2": {"datum": 12.7}}},
    {"data": {"values": [{}]}, "mark": {"type": "rule", "strokeWidth": 1.6, "color": "black"},
     "encoding": {"x": {"datum": 79.8, "type": "quantitative", "scale": {"domain": [-45.61, 125.44], "nice": false, "zero": false}, "axis": null}, "x2": {"datum": 129.8},
                  "y": {"datum": -109.6, "type": "quantitative", "scale": {"domain": [-128.47, 110.35], "nice": false, "zero": false}, "axis": null}}},
    {"data": {"values": [{}]}, "mark": {"type": "text", "text": "B", "fontSize": 25, "fontWeight": "bold", "align": "left", "baseline": "alphabetic"},
     "encoding": {"x": {"datum": -43, "type": "quantitative", "scale": {"domain": [-45.61, 125.44], "nice": false, "zero": false}, "axis": null},
                  "y": {"datum": 80.9, "type": "quantitative", "scale": {"domain": [-128.47, 110.35], "nice": false, "zero": false}, "axis": null}}},
    {"data": {"values": [{}]}, "mark": {"type": "text", "text": "-72mV", "fontSize": 16, "align": "right", "baseline": "middle"},
     "encoding": {"x": {"datum": -1.75, "type": "quantitative", "scale": {"domain": [-45.61, 125.44], "nice": false, "zero": false}, "axis": null},
                  "y": {"datum": -44.9, "type": "quantitative", "scale": {"domain": [-128.47, 110.35], "nice": false, "zero": false}, "axis": null}}},
    {"data": {"values": [{}]}, "mark": {"type": "text", "text": "20mV", "fontSize": 13, "angle": 90, "align": "center", "baseline": "middle"},
     "encoding": {"x": {"datum": 122.8, "type": "quantitative", "scale": {"domain": [-45.61, 125.44], "nice": false, "zero": false}, "axis": null},
                  "y": {"datum": 2.1, "type": "quantitative", "scale": {"domain": [-128.47, 110.35], "nice": false, "zero": false}, "axis": null}}},
    {"data": {"values": [{}]}, "mark": {"type": "text", "text": "50ms", "fontSize": 12, "align": "center", "baseline": "middle"},
     "encoding": {"x": {"datum": 105.3, "type": "quantitative", "scale": {"domain": [-45.61, 125.44], "nice": false, "zero": false}, "axis": null},
                  "y": {"datum": -121.4, "type": "quantitative", "scale": {"domain": [-128.47, 110.35], "nice": false, "zero": false}, "axis": null}}}
   ]},
  {"width": 161, "height": 142,
   "layer": [
    {"data": {"name": "histC"}, "mark": {"type": "rect", "color": "black", "stroke": "black", "strokeWidth": 0.4},
     "encoding": {"x": {"field": "lo", "type": "quantitative", "scale": {"domain": [0, 50], "nice": false, "zero": false},
                        "axis": {"title": "Inter-Spike Interval (ms)", "values": [0,5,10,15,20,25,30,35,40,45,50], "labels": false, "tickSize": 4, "titleFontSize": 15.5, "titlePadding": 19}},
                  "x2": {"field": "hi"},
                  "y": {"field": "n", "type": "quantitative", "scale": {"domain": [0, 80], "range": [142, 37], "nice": false},
                        "axis": {"title": "Spikes", "values": [0,20,40,60,80], "labels": false, "tickSize": 4, "titleFontSize": 15.5, "titlePadding": 22}},
                  "y2": {"datum": 0}}},
    {"data": {"name": "ticksCx"}, "mark": {"type": "text", "fontSize": 14, "align": "center", "baseline": "middle"},
     "encoding": {"x": {"field": "v", "type": "quantitative"}, "y": {"datum": -11.4, "type": "quantitative"}, "text": {"field": "v", "type": "quantitative"}}},
    {"data": {"name": "ticksCy"}, "mark": {"type": "text", "fontSize": 13, "align": "right", "baseline": "middle"},
     "encoding": {"x": {"datum": -1.8, "type": "quantitative"}, "y": {"field": "v", "type": "quantitative"}, "text": {"field": "v", "type": "quantitative"}}},
    {"data": {"values": [{}]}, "mark": {"type": "text", "text": "C", "fontSize": 25, "fontWeight": "bold", "align": "left", "baseline": "alphabetic"},
     "encoding": {"x": {"datum": -16.8, "type": "quantitative"},
                  "y": {"datum": 89.1, "type": "quantitative"}}},
    {"data": {"values": [{}]}, "mark": {"type": "text", "text": "Vis. Evoked", "fontSize": 15.5, "align": "center", "baseline": "middle"},
     "encoding": {"x": {"datum": 23.9, "type": "quantitative"},
                  "y": {"datum": 81.5, "type": "quantitative"}}}
   ]},
  {"width": 208, "height": 142,
   "layer": [
    {"data": {"name": "spectD"}, "transform": [{"filter": "datum.c === 'Non-Optimal'"}], "mark": {"type": "line", "strokeWidth": 2},
     "encoding": {"x": {"field": "f", "type": "quantitative", "scale": {"domain": [0, 100], "nice": false, "zero": false},
                        "axis": {"title": "Frequency (Hz)", "values": [0,5,10,15,20,25,30,35,40,45,50,55,60,65,70,75,80,85,90,95,100], "labels": false, "tickSize": 4, "titleFontSize": 14.5, "titlePadding": 20}},
                  "y": {"field": "p", "type": "quantitative", "scale": {"domain": [0, 100], "range": [142, 32], "nice": false},
                        "axis": {"title": "Norm. Power (%)", "values": [0,20,40,60,80,100], "labels": false, "tickSize": 4, "titleFontSize": 14.5, "titlePadding": 31}},
                  "color": {"field": "c", "type": "nominal", "scale": {"domain": ["Optimal", "Non-Optimal"], "range": ["black", "#a8a8a8"]},
                            "legend": {"orient": "none", "legendX": 617, "legendY": 411, "title": null, "symbolType": "stroke", "symbolSize": 256, "symbolStrokeWidth": 2.5, "labelFontSize": 13.5, "labelColor": "black", "labelOffset": 6, "rowPadding": 0, "padding": 0}}}},
    {"data": {"name": "spectD"}, "transform": [{"filter": "datum.c === 'Optimal'"}], "mark": {"type": "line", "strokeWidth": 2},
     "encoding": {"x": {"field": "f", "type": "quantitative"},
                  "y": {"field": "p", "type": "quantitative"},
                  "color": {"field": "c", "type": "nominal"}}},
    {"data": {"name": "ticksDx"}, "mark": {"type": "text", "fontSize": 13.5, "align": "center", "baseline": "middle"},
     "encoding": {"x": {"field": "v", "type": "quantitative"}, "y": {"datum": -13.6, "type": "quantitative"}, "text": {"field": "v", "type": "quantitative"}}},
    {"data": {"name": "ticksDy"}, "mark": {"type": "text", "fontSize": 13.5, "align": "right", "baseline": "middle"},
     "encoding": {"x": {"datum": -4.3, "type": "quantitative"}, "y": {"field": "v", "type": "quantitative"}, "text": {"field": "v", "type": "quantitative"}}},
    {"data": {"values": [{}]}, "mark": {"type": "text", "text": "D", "fontSize": 25, "fontWeight": "bold", "align": "left", "baseline": "alphabetic"},
     "encoding": {"x": {"datum": -30.3, "type": "quantitative"},
                  "y": {"datum": 106.4, "type": "quantitative"}}}
   ]}
 ], "spacing": 72, "bounds": "flush"}
]
}
